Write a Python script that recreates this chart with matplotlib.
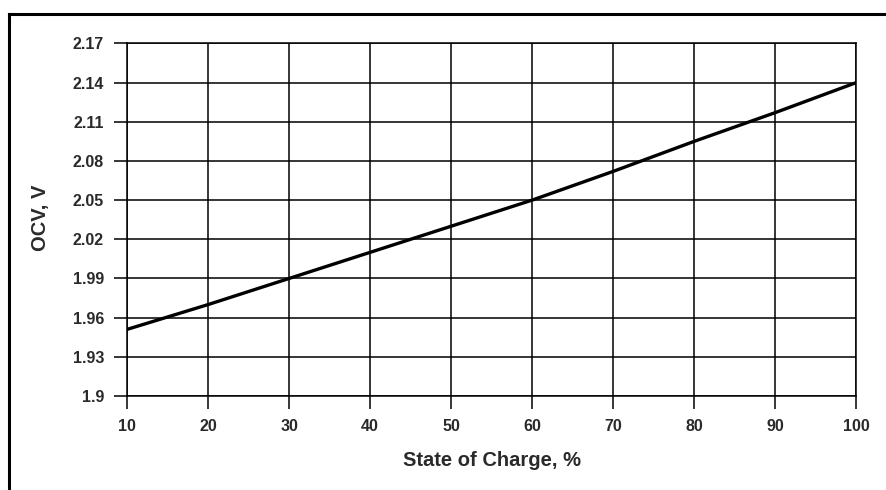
import matplotlib.pyplot as plt
from matplotlib.lines import Line2D

soc = [10, 20, 30, 40, 50, 60, 70, 80, 90, 100]
ocv = [1.951, 1.970, 1.990, 2.010, 2.030, 2.050, 2.072, 2.095, 2.117, 2.140]
x_ticks = [10, 20, 30, 40, 50, 60, 70, 80, 90, 100]
y_ticks = [1.9, 1.93, 1.96, 1.99, 2.02, 2.05, 2.08, 2.11, 2.14, 2.17]
y_labels = ['1.9', '1.93', '1.96', '1.99', '2.02', '2.05', '2.08', '2.11', '2.14', '2.17']

plt.rcParams['font.family'] = ['Liberation Sans', 'DejaVu Sans']

fig = plt.figure(figsize=(8.87, 4.90), dpi=100)
ax = fig.add_axes([0.1432, 0.1918, 0.8224, 0.7198])

ax.plot(soc, ocv, color='black', linewidth=2.4, zorder=3)

ax.set_xlim(10, 100)
ax.set_ylim(1.9, 2.17)
ax.set_xticks(x_ticks)
ax.set_yticks(y_ticks)
ax.set_yticklabels(y_labels)
ax.grid(True, color='black', linewidth=1.1)
ax.tick_params(direction='out', length=9.5, width=1.1, pad=7,
               labelsize=11.5, colors='black', labelcolor='#2a2a2a')
for lab in ax.get_xticklabels() + ax.get_yticklabels():
    lab.set_fontweight('bold')
for s in ax.spines.values():
    s.set_linewidth(1.1)

ax.set_xlabel('State of Charge, %', fontsize=14.5, fontweight='bold', color='#2a2a2a')
ax.set_ylabel('OCV, V', fontsize=14.5, fontweight='bold', color='#2a2a2a')
ax.xaxis.set_label_coords(0.5, -0.184)
ax.xaxis.label.set_va('center')
ax.yaxis.set_label_coords(-0.119, 0.505)
ax.yaxis.label.set_va('center')

# outer frame (top and left edges)
fig.add_artist(Line2D([9 / 887, 1.0], [1 - 14 / 490, 1 - 14 / 490],
                      transform=fig.transFigure, color='black', linewidth=2.2))
fig.add_artist(Line2D([9 / 887, 9 / 887], [0.0, 1 - 14 / 490],
                      transform=fig.transFigure, color='black', linewidth=2.2))

fig.savefig('out.png', dpi=100)
